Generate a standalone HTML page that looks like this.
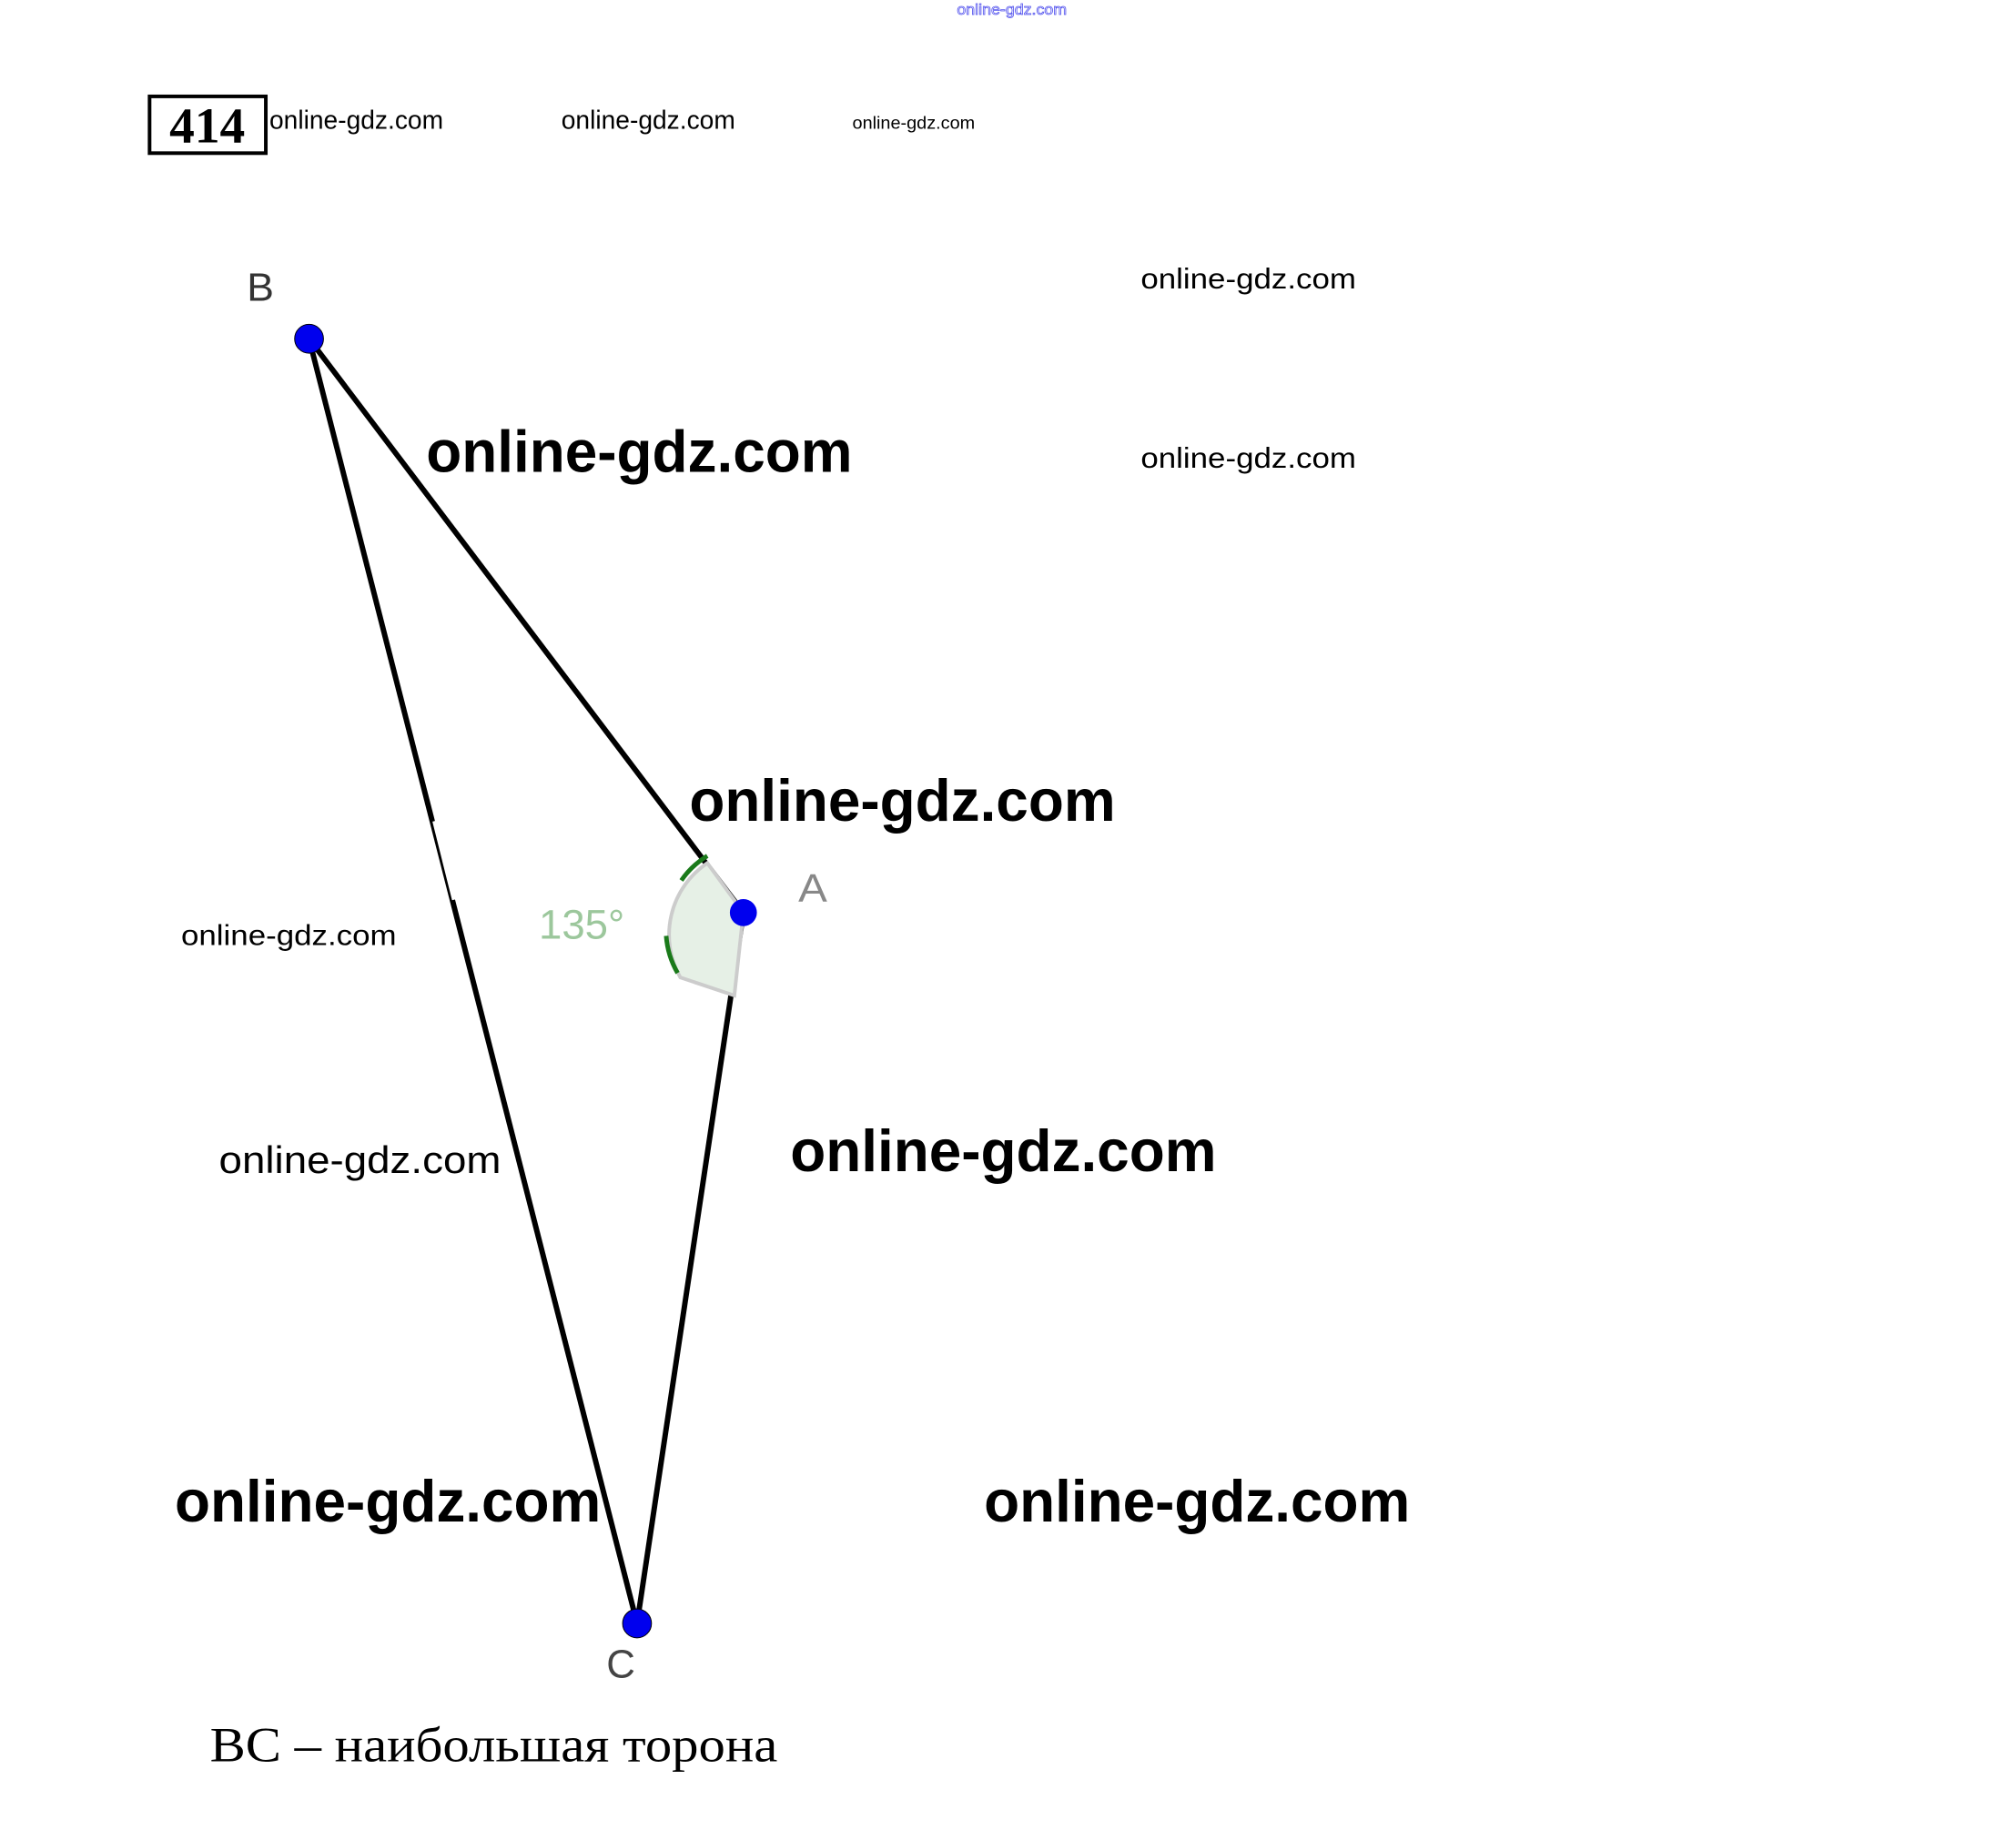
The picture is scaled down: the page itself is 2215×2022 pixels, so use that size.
<!DOCTYPE html>
<html><head><meta charset="utf-8"><style>
html,body{margin:0;padding:0;background:#fff;}
svg{display:block;}
.w{font-family:"Liberation Sans",sans-serif;fill:#000;}
</style></head><body>
<svg width="2215" height="2022" viewBox="0 0 2215 2022" xmlns="http://www.w3.org/2000/svg">
<rect width="2215" height="2022" fill="#fff"/>
<g transform="scale(0.99)">
<text x="1062" y="16" font-family="Liberation Sans,sans-serif" font-size="17" fill="none" stroke="#5555ee" stroke-width="0.8" textLength="122" lengthAdjust="spacingAndGlyphs">online-gdz.com</text>
<rect x="166" y="107" width="129" height="63" fill="#fff" stroke="#000" stroke-width="4"/>
<text x="230" y="158" text-anchor="middle" font-family="Liberation Serif,serif" font-weight="bold" font-size="56">414</text>
<text class="w" x="299" y="143" font-size="29" textLength="193" lengthAdjust="spacingAndGlyphs">online-gdz.com</text>
<text class="w" x="623" y="143" font-size="29" textLength="193" lengthAdjust="spacingAndGlyphs">online-gdz.com</text>
<text class="w" x="946" y="143" font-size="20" textLength="136" lengthAdjust="spacingAndGlyphs">online-gdz.com</text>
<text class="w" x="1266" y="320" font-size="32" textLength="239" lengthAdjust="spacingAndGlyphs">online-gdz.com</text>
<text class="w" x="1266" y="519" font-size="32" textLength="239" lengthAdjust="spacingAndGlyphs">online-gdz.com</text>
<text class="w" x="201" y="1049" font-size="32" textLength="239" lengthAdjust="spacingAndGlyphs">online-gdz.com</text>
<text class="w" x="243" y="1302" font-size="42" textLength="313" lengthAdjust="spacingAndGlyphs">online-gdz.com</text>
<path d="M343 376 L825 1013" stroke="#000" stroke-width="6"/>
<path d="M343 376 L707 1802" stroke="#000" stroke-width="6"/>
<path d="M825 1013 L707 1802" stroke="#000" stroke-width="6"/>
<rect x="490" y="910" width="6" height="90" fill="#fff" transform="rotate(-14 493 952)"/>
<path d="M825 1013 L785 958 A96 96 0 0 0 755 1085 L815 1105 Z" fill="#e6f0e6" stroke="#ccc" stroke-width="4"/>
<path d="M785 950 A96 96 0 0 0 752 1080" fill="none" stroke="#1a7a1a" stroke-width="5" stroke-dasharray="40 65 60"/>
<text x="598" y="1042" font-family="Liberation Sans,sans-serif" font-size="46" fill="#9cc79c">135°</text>
<circle cx="343" cy="376" r="16" fill="#0000ee" stroke="#000" stroke-width="1"/>
<circle cx="825" cy="1013" r="15" fill="#0000ee"/>
<circle cx="707" cy="1802" r="16" fill="#0000ee" stroke="#000" stroke-width="1"/>
<text x="274" y="334" font-family="Liberation Sans,sans-serif" font-size="44" fill="#333" textLength="30" lengthAdjust="spacingAndGlyphs">B</text>
<text x="886" y="1001" font-family="Liberation Sans,sans-serif" font-size="44" fill="#888" textLength="32" lengthAdjust="spacingAndGlyphs">A</text>
<text x="673" y="1862" font-family="Liberation Sans,sans-serif" font-size="44" fill="#444" textLength="32" lengthAdjust="spacingAndGlyphs">C</text>
<text class="w" x="473" y="524" font-size="66" font-weight="bold" textLength="473" lengthAdjust="spacingAndGlyphs">online-gdz.com</text>
<text class="w" x="765" y="911" font-size="66" font-weight="bold" textLength="473" lengthAdjust="spacingAndGlyphs">online-gdz.com</text>
<text class="w" x="877" y="1300" font-size="66" font-weight="bold" textLength="473" lengthAdjust="spacingAndGlyphs">online-gdz.com</text>
<text class="w" x="194" y="1689" font-size="66" font-weight="bold" textLength="473" lengthAdjust="spacingAndGlyphs">online-gdz.com</text>
<text class="w" x="1092" y="1689" font-size="66" font-weight="bold" textLength="473" lengthAdjust="spacingAndGlyphs">online-gdz.com</text>
<text x="233" y="1955" font-family="Liberation Serif,serif" font-size="54" fill="#000" textLength="630" lengthAdjust="spacingAndGlyphs">BC – наибольшая торона</text>
</g>
</svg>
</body></html>
